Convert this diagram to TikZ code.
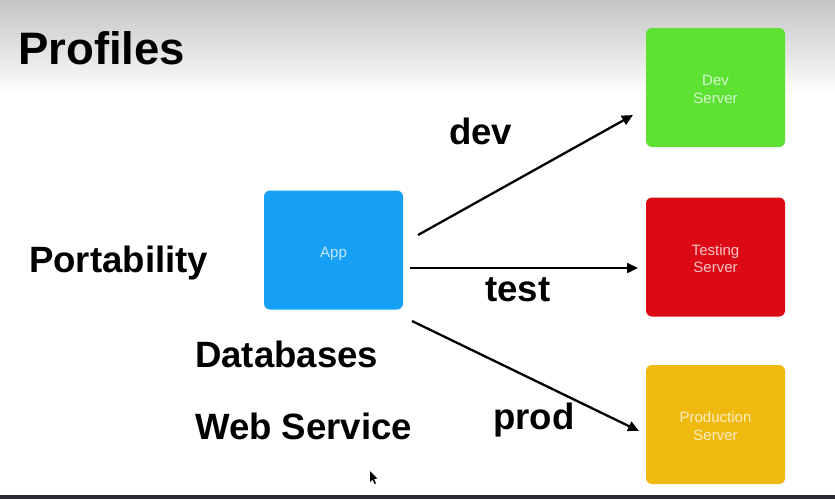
\documentclass[tikz,border=0pt]{standalone}
\usepackage{fontspec}
\setmainfont{Liberation Sans}
\usetikzlibrary{arrows.meta}
\definecolor{devgreen}{HTML}{5DE234}
\definecolor{testred}{HTML}{DC0A15}
\definecolor{prodyellow}{HTML}{F0B910}
\definecolor{appblue}{HTML}{16A0F6}
\definecolor{topgray}{HTML}{C4C4C4}
\definecolor{barcolor}{HTML}{2A2A33}
% centred caption of a tile, set a little below the middle (extra room on top)
\newcommand{\tilelabel}[1]{\raisebox{0pt}[\dimexpr\height+7pt\relax][\depth]{\begin{tabular}{@{}c@{}}#1\end{tabular}}}
\tikzset{
  x=1pt, y=-1pt,
  tile/.style={draw=none, rounded corners=6pt, minimum width=139pt, minimum height=119pt,
    text=white, text opacity=0.75, font=\fontsize{15}{17.5}\selectfont},
  heading/.style={anchor=base west, inner sep=0pt, font=\fontsize{45.5}{45}\selectfont\bfseries},
  topic/.style={anchor=base west, inner sep=0pt, font=\fontsize{36.6}{36}\selectfont\bfseries},
  profile/.style={anchor=base west, inner sep=0pt, font=\fontsize{36.6}{36}\selectfont\bfseries},
  flow/.style={line width=2.3pt, -{Triangle[length=11pt,width=10pt]}},
}
\begin{document}
\begin{tikzpicture}
% page and its soft top shading
\useasboundingbox (0,0) rectangle (835,499);
\fill[white] (0,0) rectangle (835,499);
\shade[top color=topgray, bottom color=white] (0,0) rectangle (835,95);
\fill[barcolor] (0,495) rectangle (835,499);

% title and side topics
\node[heading] (title) at (18,64) {Profiles};
\node[topic] (port) at (29,272) {Portability};
\node[topic] (db) at (195,367) {Databases};
\node[topic] (ws) at (195,439) {Web Service};

% application and target servers
\node[tile, fill=appblue] (app) at (333.5,250) {\tilelabel{App}};
\node[tile, fill=devgreen] (dev) at (715.5,87.5) {\tilelabel{Dev\\Server}};
\node[tile, fill=testred] (test) at (715.5,257) {\tilelabel{Testing\\Server}};
\node[tile, fill=prodyellow] (prod) at (715.5,424.5) {\tilelabel{Production\\Server}};

% endpoints of the profile arrows
\coordinate (devS) at (418,235);
\coordinate (devE) at (633,115);
\coordinate (testS) at (410,268);
\coordinate (testE) at (638,268);
\coordinate (prodS) at (412,321);
\coordinate (prodE) at (639,431);
\draw[flow] (devS) -- (devE);
\draw[flow] (testS) -- (testE);
\draw[flow] (prodS) -- (prodE);

% profile names
\node[profile] (ldev) at (449,144) {dev};
\node[profile] (ltest) at (485,301) {test};
\node[profile] (lprod) at (493,429) {prod};

% mouse pointer
\fill[black] (370,471) -- (370,482) -- (372.5,479.5) -- (374.5,484) -- (376,483.3) -- (374,479) -- (377.5,478.5) -- cycle;
\end{tikzpicture}
\end{document}
